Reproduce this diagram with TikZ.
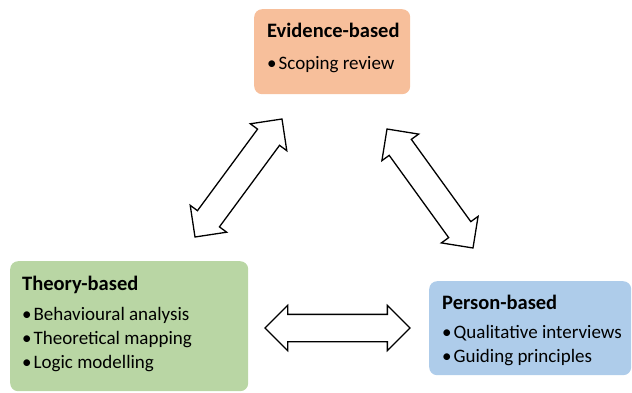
\documentclass[tikz,border=0pt]{standalone}
\usepackage{fontspec}
\setmainfont{Carlito}
\usetikzlibrary{shapes.arrows, calc}
\definecolor{peach}{HTML}{F7BF9B}
\definecolor{leaf}{HTML}{B9D6A4}
\definecolor{sky}{HTML}{AECCEA}

\begin{document}
\begin{tikzpicture}[
  x=1pt, y=-1pt,
  box/.style={rounded corners=8pt, anchor=north west, inner sep=0pt},
  txt/.style={anchor=north west, align=left, inner sep=0pt,
    font=\fontsize{19}{24}\selectfont},
  dblarrow/.style={double arrow, draw=black, fill=white, line width=1.3pt,
    double arrow head extend=9pt, inner xsep=0pt, inner ysep=13pt},
]
\useasboundingbox (0,0) rectangle (632,393);

% ══════════════════════════════════════════════════════
% Boxes
% ══════════════════════════════════════════════════════
\node[box, fill=peach, minimum width=156pt, minimum height=85pt] (evid) at (254,9) {};
\node[box, fill=leaf, minimum width=238pt, minimum height=130pt] (theory) at (10,261) {};
\node[box, fill=sky, minimum width=202pt, minimum height=94pt] (person) at (429,281) {};

% ══════════════════════════════════════════════════════
% Box texts
% ══════════════════════════════════════════════════════
\node[txt] (evidtxt) at ($(evid.north west)+(13,14)$)
  {{\fontsize{20.5}{24}\selectfont\bfseries Evidence-based}\\[8pt]
   •\hspace{2pt}Scoping review};
\node[txt] (theorytxt) at ($(theory.north west)+(12,15)$)
  {{\fontsize{20.5}{24}\selectfont\bfseries Theory-based}\\[6pt]
   •\hspace{2pt}Behavioural analysis\\
   •\hspace{2pt}Theoretical mapping\\
   •\hspace{2pt}Logic modelling};
\node[txt] (persontxt) at ($(person.north west)+(13,14)$)
  {{\fontsize{20.5}{24}\selectfont\bfseries Person-based}\\[5pt]
   •\hspace{2pt}Qualitative interviews\\
   •\hspace{2pt}Guiding principles};

% ══════════════════════════════════════════════════════
% Double arrows between the boxes
% ══════════════════════════════════════════════════════
\coordinate (te1) at (195,237);
\coordinate (te2) at (282,119);
\coordinate (ep1) at (387,129);
\coordinate (ep2) at (473,248);
\coordinate (tp1) at (265,328);
\coordinate (tp2) at (410,328);

\foreach \a/\b/\nm in {te1/te2/tearrow, ep1/ep2/eparrow, tp1/tp2/tparrow}{
  \path let \p1=($(\b)-(\a)$), \n1={atan2(\y1,\x1)}, \n2={veclen(\x1,\y1)} in
    node[dblarrow, minimum height=\n2, rotate=\n1] (\nm) at ($(\a)!0.5!(\b)$) {};
}

\end{tikzpicture}
\end{document}
